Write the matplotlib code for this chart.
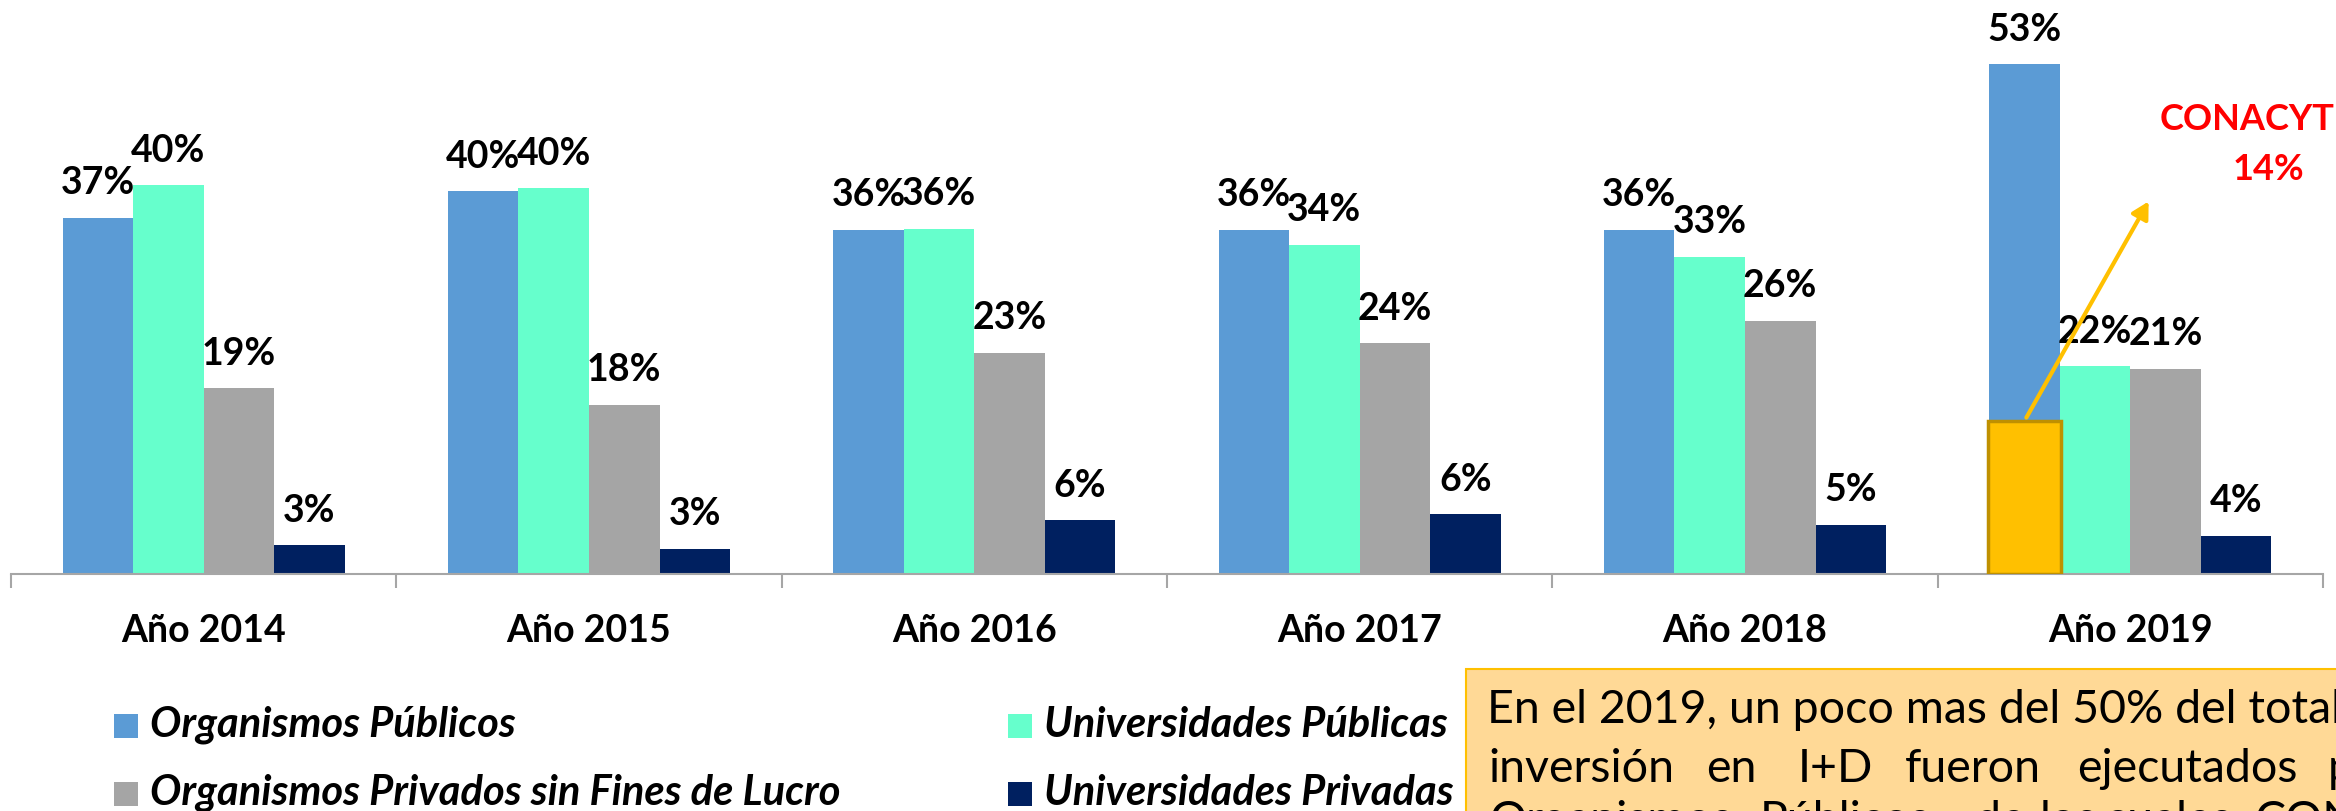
import matplotlib
matplotlib.use("Agg")
import matplotlib.pyplot as plt
from matplotlib.patches import Rectangle
from matplotlib import font_manager as fm

# ---------------- data ----------------
years = ["Año 2014", "Año 2015", "Año 2016", "Año 2017", "Año 2018", "Año 2019"]
series_names = ["Organismos Públicos", "Universidades Públicas",
                "Organismos Privados sin Fines de Lucro", "Universidades Privadas"]
org_publicos = [37.0, 39.8, 35.8, 35.8, 35.8, 53.0]
univ_publicas = [40.4, 40.1, 35.9, 34.2, 33.0, 21.6]
org_privados = [19.3, 17.6, 23.0, 24.0, 26.3, 21.3]
univ_privadas = [3.0, 2.6, 5.6, 6.2, 5.1, 4.0]
conacyt_bar = 15.9          # drawn height of the CONACYT block inside 2019
conacyt_label = "CONACYT\n14%"
colors = ["#5B9BD5", "#66FFCC", "#A5A5A5", "#002060"]

box_line1 = "En el 2019, un poco mas del 50% del total de la"
box_line2 = ["inversión", "en", "I+D", "fueron", "ejecutados", "por"]
box_line3 = ["Organismos", "Públicos,", "de", "los", "cuales", "CONACYT"]

# ---------------- fonts ----------------
avail = {f.name for f in fm.fontManager.ttflist}
FONT = "Lato" if "Lato" in avail else "DejaVu Sans"
plt.rcParams["font.family"] = [FONT, "DejaVu Sans"]

W, H = 2336, 811
fig = plt.figure(figsize=(W / 100, H / 100), dpi=100)

# axes placement in pixels
x0, x1 = 11, 2323
base = 574
pxper = 9.62
ax = fig.add_axes([x0 / W, (H - base) / H, (x1 - x0) / W, base / H])
ax.set_xlim(0, 6)
ax.set_ylim(0, base / pxper)
ax.set_facecolor("none")

series = [org_publicos, univ_publicas, org_privados, univ_privadas]
bw = 0.183
for i, (vals, c) in enumerate(zip(series, colors)):
    xs = [g + 0.5 + (i - 1.5) * bw for g in range(len(years))]
    ax.bar(xs, vals, width=bw, color=c, edgecolor="none", zorder=2)
    for x, v in zip(xs, vals):
        ax.annotate(f"{round(v)}%", (x, v), xytext=(0, 17), textcoords="offset points",
                    ha="center", va="baseline", fontsize=27, fontweight="bold",
                    color="black", zorder=5)

# CONACYT block on 2019 blue bar
x19 = 5 + 0.5 - 1.5 * bw
ax.bar([x19], [conacyt_bar], width=bw * 1.03, color="#FFC000", edgecolor="#BF9000",
       linewidth=2.5, zorder=3)

# arrow and CONACYT text
def px2data(px, py):
    return ((px - x0) / ((x1 - x0) / 6), (base - py) / pxper)

ax.annotate("", xy=px2data(2150, 199), xytext=px2data(2025, 420),
            arrowprops=dict(arrowstyle="-|>,head_width=0.55,head_length=1.0",
                            color="#FFC000", lw=3), zorder=6, annotation_clip=False)
name, pct = conacyt_label.split("\n")
fig.text(2247 / W, 1 - 120 / H, name, ha="center", va="center", fontsize=26,
         fontweight="bold", color="#FF0000")
fig.text(2268 / W, 1 - 170 / H, pct, ha="center", va="center", fontsize=26,
         fontweight="bold", color="#FF0000")

# axis styling
for s in ["top", "right", "left"]:
    ax.spines[s].set_visible(False)
ax.spines["bottom"].set_color("#A6A6A6")
ax.spines["bottom"].set_linewidth(1.5)
ax.set_yticks([])
ax.set_xticks(range(7))
ax.set_xticklabels([])
ax.tick_params(axis="x", length=10, width=1.5, color="#A6A6A6", direction="out")
for g, lab in enumerate(years):
    ax.text(g + 0.5, -68 / pxper, lab, ha="center", va="baseline", fontsize=27,
            fontweight="bold", color="black")

# legend (manual)
leg = [(114, 726, 0), (1008, 726, 1), (114, 794, 2), (1008, 794, 3)]
for lx, ly, i in leg:
    fig.patches.append(Rectangle((lx / W, 1 - (ly + 12) / H), 24 / W, 24 / H,
                                 transform=fig.transFigure, facecolor=colors[i],
                                 edgecolor="none"))
    fig.text((lx + 36) / W, 1 - (ly + 11) / H, series_names[i], ha="left",
             va="baseline", fontsize=30, fontweight="bold", style="italic")

# text box
fig.patches.append(Rectangle((1466 / W, -0.2), (W - 1466 + 50) / W, 0.2 + 1 - 669 / H,
                             transform=fig.transFigure, facecolor="#FFD996",
                             edgecolor="#FFC000", linewidth=1.5, zorder=1))
fig.text(1487 / W, 1 - 723 / H, box_line1, ha="left", va="baseline", fontsize=33.5,
         color="black", zorder=3)
line2_x = [1488, 1706, 1798, 1905, 2077, 2328]
for w, xx in zip(box_line2, line2_x):
    fig.text(xx / W, 1 - 782 / H, w, ha="left", va="baseline", fontsize=33.5,
             color="black", zorder=3)
line3_x = [1490, 1760, 1975, 2040, 2105, 2255]
for w, xx in zip(box_line3, line3_x):
    fig.text(xx / W, 1 - 834 / H, w, ha="left", va="baseline", fontsize=33.5,
             color="black", zorder=3)

fig.savefig("out.png", dpi=100)
